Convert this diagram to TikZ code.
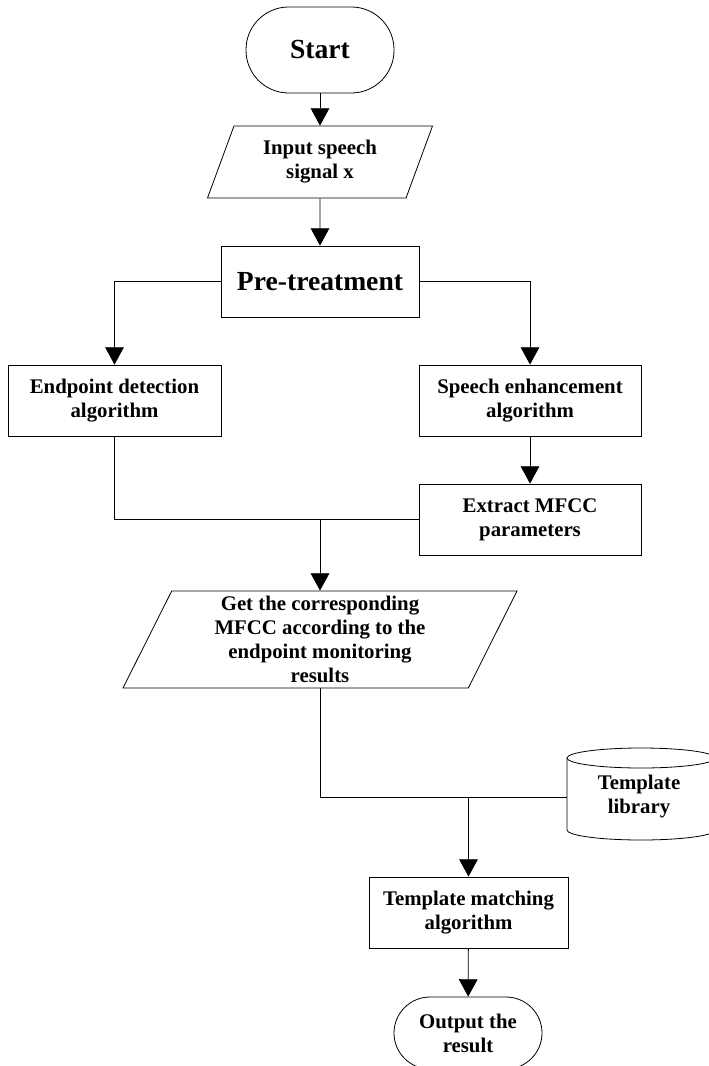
\documentclass[tikz,border=0pt]{standalone}
\usepackage{fontspec}
\setmainfont{Liberation Serif}
\usetikzlibrary{shapes.geometric}
\usetikzlibrary{arrows.meta}

\tikzset{
  txt/.style={font=\fontsize{15.6}{18}\selectfont\bfseries},
  bigtxt/.style={font=\fontsize{20.7}{24}\selectfont\bfseries},
  box/.style={draw, line width=0.6pt, rectangle, align=center, txt,
    minimum height=53.25pt},
  term/.style={box, rounded corners=#1},
  io/.style={draw, line width=0.6pt, trapezium, trapezium left angle=63,
    trapezium right angle=117, trapezium stretches body=true, align=center, txt},
  link/.style={line width=0.6pt},
  flow/.style={link, -{Triangle[length=13pt,width=14pt]}},
}

\begin{document}
\begin{tikzpicture}[x=0.75pt,y=-0.75pt]
\useasboundingbox (0,0) rectangle (709,1066);

\node[term=32pt, bigtxt, minimum width=111pt, minimum height=64.5pt] (start) at (320,50) {Start};
\node[io, minimum width=168.75pt, minimum height=54pt] (input) at (320,162) {Input speech\\signal x};
\node[box, bigtxt, minimum width=148.5pt] (pre) at (320,281.5) {Pre-treatment};
\node[box, minimum width=159.75pt] (endp) at (114.5,400.5) {Endpoint detection\\algorithm};
\node[box, minimum width=166.5pt] (enh) at (530,400.5) {Speech enhancement\\algorithm};
\node[box, minimum width=166.5pt] (mfcc) at (530,519.5) {Extract MFCC\\parameters};
\node[io, minimum width=295.5pt, minimum height=72.75pt] (getmfcc) at (320,639.5)
  {Get the corresponding\\MFCC according to the\\endpoint monitoring\\results};
\node[txt, align=center, minimum width=108pt, minimum height=54pt] (lib) at (639,797) {Template\\library};
\node[box, minimum width=149.25pt] (match) at (468.5,912.5) {Template matching\\algorithm};
\node[term=27pt, minimum width=111pt, minimum height=54pt] (out) at (468,1033) {Output the\\result};

% template library drum
\draw[link] (567,758) -- (567,830)
  arc[start angle=180, end angle=360, x radius=55.5pt, y radius=7.5pt] -- (715,758);
\draw[link] (641,758) ellipse [x radius=55.5pt, y radius=7.5pt];

\draw[flow] (start) -- (input);
\draw[flow] (input) -- (pre);
\draw[flow] (pre.west) -| (endp.north);
\draw[flow] (pre.east) -| (enh.north);
\draw[flow] (enh) -- (mfcc);
\draw[link] (endp.south) |- (mfcc.west);
\coordinate (j1) at (getmfcc.north |- mfcc.west);
\draw[flow] (j1) -- (getmfcc.north);
\draw[link] (getmfcc.south) |- (567,797);
\coordinate (j2) at (match.north |- lib.west);
\draw[flow] (j2) -- (match);
\draw[flow] (match) -- (out);
\end{tikzpicture}
\end{document}
